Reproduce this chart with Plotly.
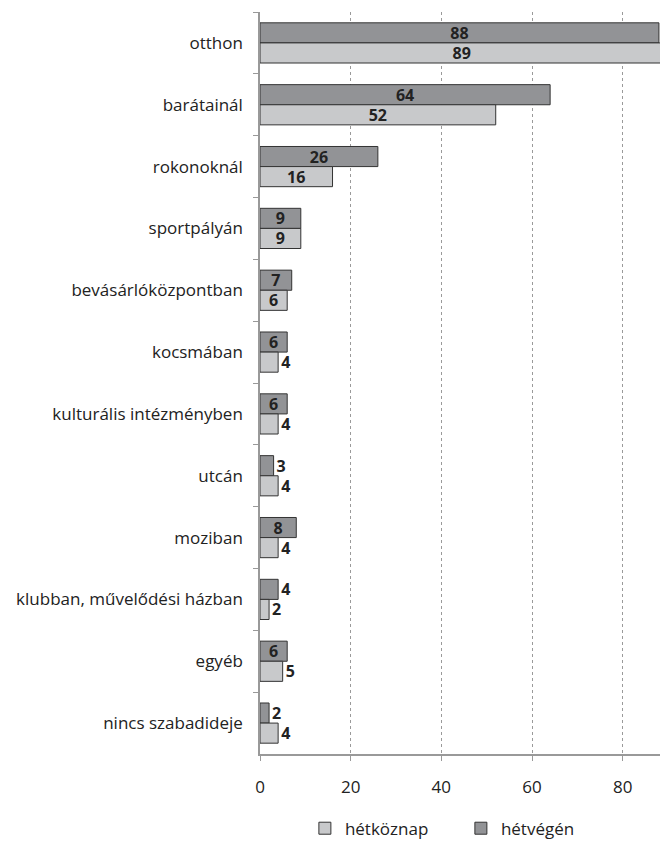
import plotly.graph_objects as go

categories = ["otthon", "barátainál", "rokonoknál", "sportpályán", "bevásárlóközpontban",
              "kocsmában", "kulturális intézményben", "utcán", "moziban",
              "klubban, művelődési házban", "egyéb", "nincs szabadideje"]
hetvegen = [88, 64, 26, 9, 7, 6, 6, 3, 8, 4, 6, 2]
hetkoznap = [89, 52, 16, 9, 6, 4, 4, 4, 4, 2, 5, 4]
x_ticks = [0, 20, 40, 60, 80]

FONT = "Open Sans"
TXT = "#222222"


def positions(vals):
    # wide bars carry their label inside, narrow ones outside
    return ["inside" if v >= 6 else "outside" for v in vals]


fig = go.Figure()
fig.add_trace(go.Bar(
    y=categories, x=hetvegen, orientation="h", name="hétvégén",
    marker=dict(color="#929396", line=dict(color="#333333", width=1)),
    text=hetvegen, textposition=positions(hetvegen), insidetextanchor="middle",
    textangle=0, constraintext="none", cliponaxis=False,
    textfont=dict(family=FONT, size=16, color=TXT, weight="bold"),
    legendrank=2,
))
fig.add_trace(go.Bar(
    y=categories, x=hetkoznap, orientation="h", name="hétköznap",
    marker=dict(color="#c8c9cb", line=dict(color="#333333", width=1)),
    text=hetkoznap, textposition=positions(hetkoznap), insidetextanchor="middle",
    textangle=0, constraintext="none", cliponaxis=False,
    textfont=dict(family=FONT, size=16, color=TXT, weight="bold"),
    legendrank=1,
))

# page body has an 8px margin, so the figure is shrunk by that much
fig.update_layout(
    width=660, height=834,
    margin=dict(l=252, r=0, t=4, b=88),
    barmode="group", bargap=0.35, bargroupgap=0,
    plot_bgcolor="white", paper_bgcolor="white",
    font=dict(family=FONT, size=16, color=TXT),
    showlegend=True,
    legend=dict(orientation="h", x=0.11, xanchor="left", yref="container", y=0.016,
                yanchor="middle", font=dict(size=17), itemwidth=30, entrywidth=111),
    xaxis=dict(range=[0, 90], tickvals=x_ticks, showgrid=True, gridcolor="#9a9a9a",
               griddash="dot", gridwidth=1, zeroline=False, showline=True,
               linecolor="#999999", linewidth=1.5, ticks="outside", ticklen=5,
               tickcolor="#999999", tickfont=dict(size=17), ticklabelstandoff=12,
               automargin=False),
    yaxis=dict(autorange="reversed", showline=True, linecolor="#999999", linewidth=1.5,
               ticks="outside", ticklen=5, tickcolor="#999999", tickson="boundaries",
               showgrid=False, tickfont=dict(size=17), ticklabelstandoff=12,
               automargin=False),
)

fig.write_html("out.html")
